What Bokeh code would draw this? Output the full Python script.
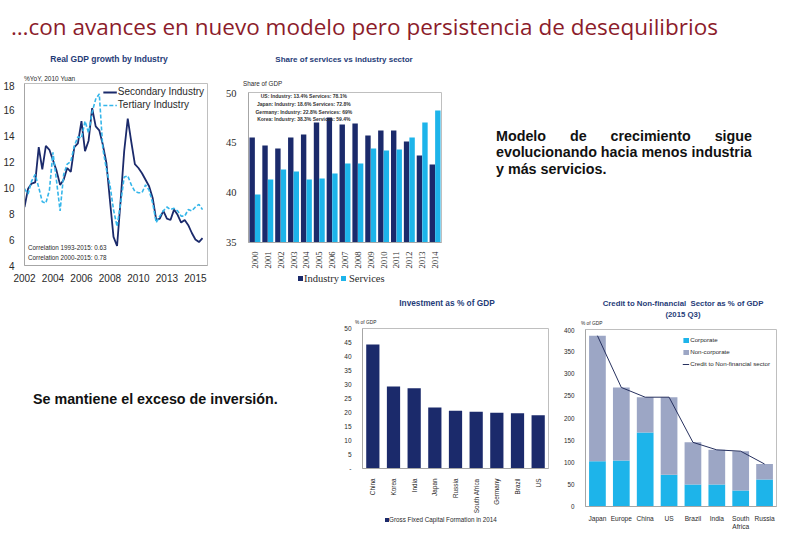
import math
from bokeh.plotting import figure
from bokeh.layouts import column, row
from bokeh.models import (ColumnDataSource, FactorRange, Range1d, FixedTicker,
                          Label, Div)
from bokeh.transform import dodge
from bokeh.embed import file_html
from bokeh.resources import INLINE

# ---------------- data ----------------
gdp_tick_pos = [0, 8, 16, 24, 32, 40, 48]
gdp_tick_labels = ["2002", "2004", "2006", "2008", "2010", "2013", "2015"]
secondary = [8.5, 9.9, 10.3, 10.4, 13.1, 11.4, 13.2, 12.9, 12.1, 11.3,
             10.2, 10.6, 11.5, 11.2, 13.1, 13.4, 15.1, 12.8, 13.6, 16.1,
             14.7, 14.4, 13.3, 11.9, 9.0, 6.2, 5.5, 9.0, 12.8, 15.3,
             13.5, 11.8, 11.5, 11.1, 10.6, 10.1, 9.2, 7.5, 7.6, 8.2,
             7.6, 7.5, 8.3, 7.9, 7.3, 7.5, 7.1, 6.5, 6.0, 5.8, 6.1]
tertiary = [9.9, 9.5, 10.5, 11.0, 10.0, 8.9, 8.8, 9.8, 12.7, 10.5,
            8.2, 11.0, 11.8, 12.0, 13.2, 13.9, 13.8, 15.1, 14.2, 15.8,
            16.8, 17.2, 13.0, 11.4, 10.2, 8.3, 7.0, 8.8, 10.8, 10.9,
            10.2, 9.7, 9.6, 9.6, 10.2, 9.8, 8.8, 7.3, 7.8, 8.2,
            8.5, 8.3, 8.4, 8.2, 7.8, 7.8, 8.3, 8.2, 8.5, 8.7, 8.3]

share_years = ["2000", "2001", "2002", "2003", "2004", "2005", "2006", "2007",
               "2008", "2009", "2010", "2011", "2012", "2013", "2014"]
industry_share = [45.5, 44.7, 44.4, 45.5, 45.8, 47.0, 47.5, 46.8,
                  46.9, 45.7, 46.2, 46.2, 45.1, 43.7, 42.8]
services_share = [39.8, 41.3, 42.3, 42.1, 41.3, 41.4, 41.9, 42.9,
                  42.9, 44.4, 44.2, 44.3, 45.5, 47.0, 48.2]
share_notes = ["US: Industry: 13.4% Services: 78.1%",
               "Japan: Industry: 18.6% Services: 72.8%",
               "Germany: Industry: 22.8% Services: 69%",
               "Korea: Industry: 38.3% Services: 59.4%"]

inv_countries = ["China", "Korea", "India", "Japan", "Russia", "South Africa",
                 "Germany", "Brazil", "US"]
inv_values = [44.3, 29.3, 28.7, 21.8, 20.6, 20.3, 19.9, 19.7, 19.0]

credit_countries = ["Japan", "Europe", "China", "US", "Brazil", "India",
                    "South\nAfrica", "Russia"]
credit_corporate = [102, 104, 167, 72, 50, 50, 36, 61]
credit_noncorporate = [284, 165, 80, 175, 95, 78, 89, 35]

# ---------------- styles ----------------
SANS = "Liberation Sans"
SERIF = "Liberation Serif"
NAVY = "#1B2A6B"
CYAN = "#1DB4EA"
DASHBLUE = "#35B6EA"
GREYBLUE = "#9CA6C5"
TITLE_C = "#1F3C78"
RED = "#8C1C2B"
TXT = "#2a2a2a"
FRAME = "#BFBFBF"
COMMON = dict(output_backend="svg", toolbar_location=None)


def style(p, font=SANS, size="10px"):
    p.xgrid.visible = False
    p.ygrid.visible = False
    p.outline_line_color = FRAME
    p.axis.axis_line_color = "#A6A6A6"
    p.axis.minor_tick_line_color = None
    p.axis.major_tick_line_color = None
    p.axis.major_label_text_font = font
    p.axis.major_label_text_font_size = size
    p.axis.major_label_text_color = TXT


def span(x, cy, text, size, bold=False, color=TXT, align="left", font=SANS):
    lh = round(size * 1.25, 1)
    top = cy - lh / 2
    weight = "bold" if bold else "normal"
    if align == "center":
        pos = f"left:{x - 300}px; width:600px; text-align:center;"
    else:
        pos = f"left:{x}px;"
    return (f"<div style=\"position:absolute; {pos} top:{top}px; white-space:nowrap; "
            f"font-family:'{font}'; font-size:{size}px; font-weight:{weight}; "
            f"line-height:{lh}px; color:{color};\">{text}</div>")


def swatch(x, cy, s, color):
    return (f"<div style=\"position:absolute; left:{x}px; top:{cy - s / 2}px; "
            f"width:{s}px; height:{s}px; background:{color};\"></div>")


def box(w, h, parts):
    return Div(text="".join(parts), width=w, height=h,
               styles={"position": "relative", "margin": "0", "padding": "0",
                       "overflow": "visible"})


# ---------------- header ----------------
hdr = box(773, 40, [span(11, 27, "\u2026con avances en nuevo modelo pero persistencia de desequilibrios",
                         22.5, color=RED, font="Open Sans")])

# ---------------- chart 1: Real GDP growth ----------------
d1 = box(210, 41, [span(109, 19, "Real GDP growth by Industry", 8.5, bold=True,
                        color=TITLE_C, align="center"),
                   span(24, 39, "%YoY, 2010 Yuan", 6.5)])
p1 = figure(width=210, height=203, x_range=Range1d(0, 51.4), y_range=Range1d(4, 18),
            min_border_left=24, min_border_right=3, min_border_top=2,
            min_border_bottom=15, **COMMON)
style(p1, size="10px")
idx = list(range(len(secondary)))
p1.line(idx, secondary, color=NAVY, line_width=1.8, legend_label="Secondary Industry")
p1.line(idx, tertiary, color=DASHBLUE, line_width=1.6, line_dash="4 2",
        legend_label="Tertiary Industry")
p1.xaxis.ticker = FixedTicker(ticks=gdp_tick_pos)
p1.xaxis.major_label_overrides = {t: l for t, l in zip(gdp_tick_pos, gdp_tick_labels)}
p1.yaxis.ticker = FixedTicker(ticks=list(range(4, 19, 2)))
p1.xaxis.major_label_standoff = 2
p1.yaxis.major_label_standoff = 4
p1.legend.location = "top_right"
p1.legend.background_fill_alpha = 0
p1.legend.border_line_color = None
p1.legend.label_text_font = SANS
p1.legend.label_text_font_size = "10px"
p1.legend.label_text_color = TXT
p1.legend.glyph_width = 14
p1.legend.glyph_height = 10
p1.legend.label_height = 10
p1.legend.label_standoff = 1
p1.legend.spacing = 2
p1.legend.padding = 2
p1.legend.margin = 3
p1.add_layout(Label(x=1, y=5.35, text="Correlation 1993-2015: 0.63", text_font=SANS,
                    text_font_size="6.3px", text_color=TXT, text_baseline="middle"))
p1.add_layout(Label(x=1, y=4.6, text="Correlation 2000-2015: 0.78", text_font=SANS,
                    text_font_size="6.3px", text_color=TXT, text_baseline="middle"))
c1 = column(d1, p1)

# ---------------- chart 2: Share of services vs industry ----------------
d2 = box(242, 49, [span(134, 20, "Share of services vs industry sector", 8, bold=True,
                        color=TITLE_C, align="center"),
                   span(33, 44, "Share of GDP", 6.3)])
src2 = ColumnDataSource(dict(year=share_years, industry=industry_share,
                             services=services_share))
p2 = figure(width=242, height=182, x_range=FactorRange(factors=share_years, range_padding=0),
            y_range=Range1d(35, 50), min_border_left=38, min_border_right=11,
            min_border_top=3, min_border_bottom=27, **COMMON)
style(p2, font=SERIF, size="10.5px")
p2.xaxis.major_label_text_font_size = "8.5px"
p2.xaxis.major_label_orientation = math.pi / 2
p2.xaxis.major_label_standoff = 3
p2.yaxis.ticker = FixedTicker(ticks=[35, 40, 45, 50])
p2.yaxis.major_label_standoff = 6
p2.vbar(x=dodge("year", -0.215, range=p2.x_range), top="industry", bottom=35,
        width=0.42, source=src2, color=NAVY, line_color=None)
p2.vbar(x=dodge("year", 0.215, range=p2.x_range), top="services", bottom=35,
        width=0.42, source=src2, color=CYAN, line_color=None)
for i, note in enumerate(share_notes):
    p2.add_layout(Label(x=4.3, y=49.62 - i * 0.76, text=note, text_font=SANS,
                        text_font_size="5px", text_font_style="bold", text_color="#333",
                        text_align="center", text_baseline="middle"))
l2 = box(242, 13, [swatch(88, 7.5, 5, NAVY), span(94, 7.5, "Industry", 10.5, font=SERIF),
                   swatch(131, 7.5, 5, CYAN), span(139, 7.5, "Services", 10.5, font=SERIF)])
c2 = column(d2, p2, l2)

# ---------------- text 1 ----------------
para = ("<div style=\"position:absolute; left:39px; top:83px; width:256px; "
        "font-family:'Liberation Sans'; font-weight:bold; font-size:14.3px; "
        "line-height:16.3px; color:#111;\">"
        "<div style=\"text-align:justify; text-align-last:justify;\">Modelo de crecimiento sigue</div>"
        "<div style=\"white-space:nowrap;\">evolucionando hacia menos industria</div>"
        "<div>y más servicios.</div></div>")
t1 = Div(text=para, width=321, height=244, styles={"position": "relative"})

# ---------------- text 2 ----------------
para2 = ("<div style=\"position:absolute; left:28px; top:92px; white-space:nowrap; "
         "font-family:'Liberation Sans'; font-weight:bold; font-size:14.3px; "
         "line-height:16px; color:#111;\">Se mantiene el exceso de inversión.</div>")
t2 = Div(text=para2, width=327, height=249, styles={"position": "relative"})

# ---------------- chart 3: Investment ----------------
d3 = box(220, 31, [span(110, 9, "Investment as % of GDP", 8.3, bold=True,
                        color=TITLE_C, align="center"),
                   span(18, 28.5, "% of GDP", 4.8)])
src3 = ColumnDataSource(dict(country=inv_countries, inv=inv_values))
p3 = figure(width=220, height=191, x_range=FactorRange(factors=inv_countries, range_padding=0),
            y_range=Range1d(0, 50), min_border_left=25, min_border_right=9,
            min_border_top=3, min_border_bottom=44, **COMMON)
style(p3, size="6.5px")
p3.xaxis.major_label_orientation = math.pi / 2
p3.xaxis.major_label_standoff = 4
p3.xaxis.major_label_text_font_size = "6.4px"
p3.yaxis.ticker = FixedTicker(ticks=list(range(0, 51, 5)))
p3.yaxis.major_label_overrides = {0: "-"}
p3.yaxis.major_label_standoff = 5
p3.vbar(x="country", top="inv", width=0.64, source=src3, color=NAVY, line_color=None)
l3 = box(220, 27, [swatch(48, 4, 3.5, NAVY),
                   span(52, 4, "Gross Fixed Capital Formation in 2014", 6.3)])
c3 = column(d3, p3, l3)

# ---------------- chart 4: Credit ----------------
d4 = box(226, 33, [span(126, 10, "Credit to Non-financial&nbsp; Sector as % of GDP", 7.8,
                        bold=True, color=TITLE_C, align="center"),
                   span(126, 21, "(2015 Q3)", 7.8, bold=True, color=TITLE_C, align="center"),
                   span(24, 29.5, "% of GDP", 4.8)])
credit_total = [c + n for c, n in zip(credit_corporate, credit_noncorporate)]
src4 = ColumnDataSource(dict(country=credit_countries, corp=credit_corporate,
                             noncorp=credit_noncorporate, total=credit_total))
p4 = figure(width=226, height=216, x_range=FactorRange(factors=credit_countries, range_padding=0),
            y_range=Range1d(0, 400), min_border_left=28, min_border_right=7,
            min_border_top=2, min_border_bottom=37, **COMMON)
style(p4, size="6.3px")
p4.xaxis.major_label_text_font_size = "6.6px"
p4.xaxis.major_label_standoff = 2
p4.yaxis.ticker = FixedTicker(ticks=list(range(0, 401, 50)))
p4.yaxis.major_label_standoff = 5
p4.vbar_stack(["corp", "noncorp"], x="country", width=0.7, source=src4,
              color=[CYAN, GREYBLUE], line_color=None,
              legend_label=["Corporate", "Non-corporate"])
p4.line(x="country", y="total", source=src4, color="#27315F", line_width=1,
        legend_label="Credit to Non-financial sector")
p4.legend.location = "top_right"
p4.legend.label_text_font = SANS
p4.legend.label_text_font_size = "6.2px"
p4.legend.label_text_color = TXT
p4.legend.glyph_width = 7
p4.legend.glyph_height = 6
p4.legend.label_height = 9
p4.legend.label_standoff = 1
p4.legend.spacing = 3
p4.legend.padding = 0
p4.legend.margin = 6
p4.legend.border_line_color = None
p4.legend.background_fill_alpha = 0
c4 = column(d4, p4)

layout = column(hdr, row(c1, c2, t1), row(t2, c3, c4))
open("out.html", "w").write(file_html(layout, INLINE))
